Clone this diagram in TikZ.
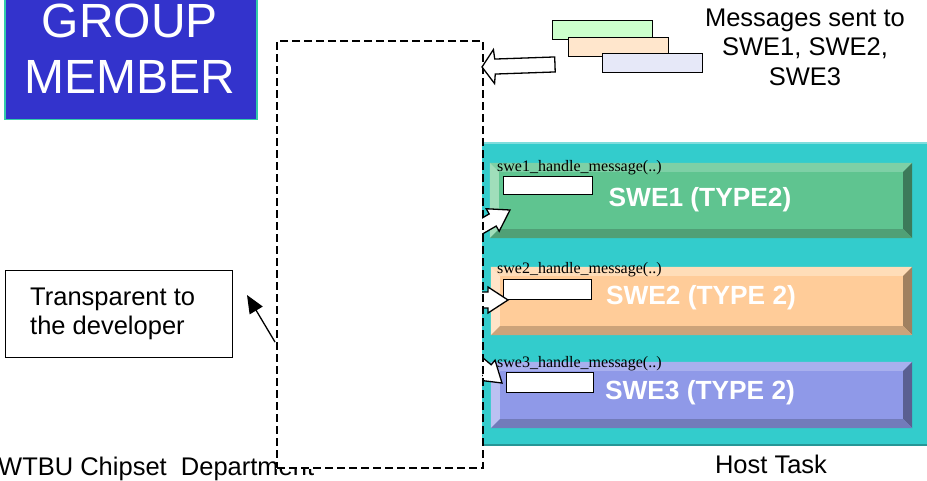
\documentclass[tikz,border=0pt]{standalone}
\usepackage{fontspec}
\setmainfont{Liberation Sans}
\newfontfamily\timesf{Liberation Serif}
\usetikzlibrary{arrows.meta,calc}

\definecolor{gmblue}{RGB}{51,51,204}
\definecolor{gmedge}{RGB}{51,204,170}
\definecolor{hostteal}{RGB}{51,204,204}
\definecolor{hosttop}{RGB}{128,221,221}
\definecolor{hostbot}{RGB}{38,150,150}
\definecolor{msggreen}{RGB}{204,255,204}
\definecolor{msgpeach}{RGB}{255,230,204}
\definecolor{msglav}{RGB}{230,232,248}
% bevel colours: face, top, left, right, bottom
\definecolor{aface}{RGB}{95,196,144}
\definecolor{atop}{RGB}{126,208,166}
\definecolor{aleft}{RGB}{160,222,186}
\definecolor{aright}{RGB}{60,122,90}
\definecolor{abot}{RGB}{80,160,118}
\definecolor{bface}{RGB}{255,204,153}
\definecolor{btop}{RGB}{255,221,184}
\definecolor{bleft}{RGB}{255,228,200}
\definecolor{bright}{RGB}{160,128,96}
\definecolor{bbot}{RGB}{204,163,122}
\definecolor{cface}{RGB}{143,153,232}
\definecolor{ctop}{RGB}{169,176,238}
\definecolor{cleft}{RGB}{187,193,242}
\definecolor{cright}{RGB}{90,95,145}
\definecolor{cbot}{RGB}{114,123,186}

\tikzset{
  big/.style={font=\fontsize{25.5}{29.5}\selectfont},
  gmtext/.style={font=\fontsize{48}{56}\selectfont, text=white, inner sep=0pt, anchor=base},
  bartext/.style={font=\bfseries\fontsize{26.3}{30}\selectfont, text=white, inner sep=0pt},
  handlelbl/.style={font=\timesf\fontsize{16}{18}\selectfont, inner sep=0pt, anchor=base west},
  slot/.style={draw=black, line width=1.3pt, fill=white, inner sep=0pt},
  msgbox/.style={draw=black, line width=1.3pt, inner sep=0pt, minimum width=100pt, minimum height=19pt},
  blockarrow/.style={draw=black, line width=1.3pt, fill=white, line join=miter},
  dashedbox/.style={draw=black, line width=2pt, dash pattern=on 8pt off 4pt},
}

% bevelled edges of a bar node: name, top, left, right, bottom colours
\newcommand\barbevels[5]{%
  \fill[#2] (#1.north west) -- (#1.north east) -- ([shift={(-9,9)}]#1.north east) -- ([shift={(9,9)}]#1.north west) -- cycle;
  \fill[#3] (#1.north west) -- ([shift={(9,9)}]#1.north west) -- ([shift={(9,-9)}]#1.south west) -- (#1.south west) -- cycle;
  \fill[#4] (#1.north east) -- (#1.south east) -- ([shift={(-9,-9)}]#1.south east) -- ([shift={(-9,9)}]#1.north east) -- cycle;
  \fill[#5] (#1.south west) -- (#1.south east) -- ([shift={(-9,-9)}]#1.south east) -- ([shift={(9,-9)}]#1.south west) -- cycle;
}

\begin{document}
\begin{tikzpicture}[x=1pt,y=-1pt]
\useasboundingbox (0,0) rectangle (927,480);
\fill[white] (0,0) rectangle (927,480);

% footer text (its tail runs under the framework box)
\node[big, anchor=base west, inner sep=0pt] (dept) at (-2,475) {WTBU Chipset\ \ Department};

% host task container
\node[fill=hostteal, inner sep=0pt, minimum width=453pt, minimum height=302pt, anchor=north west] (host) at (482,143) {};
\draw[hosttop, line width=2pt] (host.north west) -- (host.north east);
\draw[hostbot, line width=2pt] (host.south west) -- (host.south east);

% SWE bars
\node[fill=aface, inner sep=0pt, minimum width=422pt, minimum height=75pt] (swe1) at (701,200.5) {};
\barbevels{swe1}{atop}{aleft}{aright}{abot}
\node[bartext] (swe1t) at (700,200) {SWE1 (TYPE2)};

\node[fill=bface, inner sep=0pt, minimum width=421pt, minimum height=68pt] (swe2) at (701.5,301) {};
\barbevels{swe2}{btop}{bleft}{bright}{bbot}
\node[bartext] (swe2t) at (701,298) {SWE2 (TYPE 2)};

\node[fill=cface, inner sep=0pt, minimum width=421pt, minimum height=66pt] (swe3) at (701.5,395) {};
\barbevels{swe3}{ctop}{cleft}{cright}{cbot}
\node[bartext] (swe3t) at (700,393) {SWE3 (TYPE 2)};

% handler labels and slots
\node[handlelbl] (h1) at (497,171) {swe1\_handle\_message(..)};
\node[slot, minimum width=89pt, minimum height=18pt, anchor=north west] (s1) at (503,176) {};
\node[handlelbl] (h2) at (497,273) {swe2\_handle\_message(..)};
\node[slot, minimum width=88pt, minimum height=20pt, anchor=north west] (s2) at (503,279) {};
\node[handlelbl] (h3) at (497,367) {swe3\_handle\_message(..)};
\node[slot, minimum width=87pt, minimum height=20pt, anchor=north west] (s3) at (506,372) {};

% dispatch arrows entering each bar
\draw[blockarrow, shift={(510,210)}, rotate=30]
  (0,0) -- (-20,-13) -- (-20,-7) -- (-60,-7) -- (-60,7) -- (-20,7) -- (-20,13) -- cycle;
\draw[blockarrow, shift={(508,300)}]
  (0,0) -- (-20,-13) -- (-20,-8) -- (-60,-8) -- (-60,8) -- (-20,8) -- (-20,13) -- cycle;
\draw[blockarrow, shift={(502,383)}, rotate=-40]
  (0,0) -- (-20,-13) -- (-20,-7) -- (-60,-7) -- (-60,7) -- (-20,7) -- (-20,13) -- cycle;

% group member framework (dashed)
\fill[white] (276,40) rectangle (482,468.5);
\node[dashedbox, inner sep=0pt, minimum width=206pt, minimum height=427pt, anchor=north west] (frame) at (276,40) {};

% group member badge
\node[fill=gmblue, draw=gmedge, line width=1.5pt, inner sep=0pt, minimum width=252pt, minimum height=128pt, anchor=south west] (gm) at (4,120) {};
\node[gmtext] (gm1) at (130,37) {GROUP};
\node[gmtext] (gm2) at (130,93) {MEMBER};

% incoming messages
\node[msgbox, fill=msggreen, anchor=north west] (m1) at (552,20) {};
\node[msgbox, fill=msgpeach, anchor=north west] (m2) at (568,37) {};
\node[msgbox, fill=msglav, anchor=north west] (m3) at (602,53) {};
\node[big, align=center] (msgt) at (805,47) {Messages sent to\\SWE1, SWE2,\\SWE3};

\draw[blockarrow, shift={(482,67)}, rotate=182]
  (0,0) -- (-12,-17) -- (-13,-7.5) -- (-73,-7.5) -- (-73,7.5) -- (-13,7.5) -- (-12,17) -- cycle;

% transparency note
\node[draw=black, line width=1pt, inner sep=0pt, minimum width=227pt, minimum height=87pt, anchor=north west] (tbox) at (5,270) {};
\node[big, align=left, anchor=west, inner sep=0pt] (tnote) at (30,314) {Transparent to\\the developer};
\coordinate (tfrom) at (275,342);
\coordinate (tto) at (247,295);
\draw[line width=1.3pt, -{Triangle[length=18pt,width=15pt]}] (tfrom) -- (tto);

% host task caption
\node[big] (hostt) at (771,464) {Host Task};
\end{tikzpicture}
\end{document}
